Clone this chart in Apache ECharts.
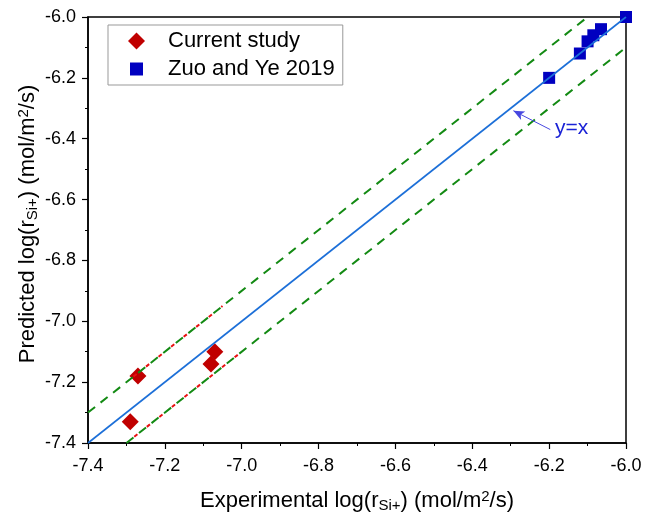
<!DOCTYPE html>
<html><head><meta charset="utf-8">
<script src="https://cdn.jsdelivr.net/npm/echarts@6/dist/echarts.min.js"></script>
<style>html,body{margin:0;padding:0;background:#fff}#c{width:656px;height:518px}</style>
</head><body><div id="c"></div>
<script>
var currentStudy = [[-7.29,-7.33],[-7.27,-7.18],[-7.07,-7.10],[-7.08,-7.14]];
var zuoYe = [[-6.20,-6.20],[-6.12,-6.12],[-6.10,-6.08],[-6.085,-6.06],[-6.065,-6.04],[-6.0,-6.0]];
var identityLine = [[-7.4,-7.4],[-6.0,-6.0]];
var upperBand = [[-7.4,-7.3],[-6.1,-6.0]];
var lowerBand = [[-7.3,-7.4],[-6.0,-6.1]];
var upperRed = [[-7.3,-7.2],[-7.05,-6.95]];
var lowerRed = [[-7.3,-7.4],[-7.0,-7.1]];
var axisMin = -7.4, axisMax = -6.0, axisStep = 0.2;
var arrowTail = [-6.197,-6.37], arrowTip = [-6.293,-6.308];

var chart = echarts.init(document.getElementById('c'));
var font = 'Arial, "Liberation Sans", sans-serif';
function axisCommon(){
  return {
    type:'value', min:axisMin, max:axisMax, interval:axisStep,
    axisLine:{show:true,onZero:false,lineStyle:{color:'#000',width:1.5}},
    axisTick:{show:true,inside:false,length:6,lineStyle:{color:'#000',width:1.2}},
    minorTick:{show:true,splitNumber:2,length:3,lineStyle:{color:'#000',width:1}},
    splitLine:{show:false},
    axisLabel:{color:'#000',fontSize:18,fontFamily:font,margin:14,formatter:function(v){return v.toFixed(1);}},
    nameLocation:'middle',
    nameMoveOverlap:false,
    nameTextStyle:{color:'#000',fontSize:22,fontFamily:font,
      rich:{n:{fontSize:22,fontFamily:font,color:'#000'},
            s:{fontSize:15,fontFamily:font,color:'#000',padding:[10,0,0,0]},
            p:{fontSize:15,fontFamily:font,color:'#000',padding:[0,0,8,0]}}}
  };
}
var xA = axisCommon();
xA.name = '{n|Experimental log(r}{s|Si+}{n|) (mol/m}{p|2}{n|/s)}';
xA.nameGap = 45;
var yA = axisCommon();
yA.name = '{n|Predicted log(r}{s|Si+}{n|) (mol/m}{p|2}{n|/s)}';
yA.nameGap = 48;
yA.nameTextStyle.padding = [0,0,0,12];
yA.axisLabel.margin = 12;

chart.setOption({
  animation:false,
  grid:{left:88,right:30,top:17,bottom:75,containLabel:false,outerBoundsMode:'none',show:true,borderColor:'#000',borderWidth:1.5,backgroundColor:'transparent'},
  xAxis:xA, yAxis:yA,
  legend:{
    orient:'vertical', left:108, top:25, padding:[5,8,5,20], itemGap:6,
    borderColor:'#999', borderWidth:1, backgroundColor:'#fff',
    itemWidth:17, itemHeight:17,
    textStyle:{fontSize:22,fontFamily:font,color:'#000',padding:[0,0,0,18]},
    data:[{name:'Current study',icon:'diamond',itemStyle:{color:'#c00000'}},
          {name:'Zuo and Ye 2019',icon:'path://M0,0M2,2L15,2L15,15L2,15ZM17,17',itemStyle:{color:'#0000c0'}}]
  },
  series:[
    {type:'line',data:upperBand,symbol:'none',silent:true,lineStyle:{color:'#138a13',width:2,type:[9,7]}},
    {type:'line',data:lowerBand,symbol:'none',silent:true,lineStyle:{color:'#138a13',width:2,type:[9,7]}},
    {type:'line',data:upperRed,symbol:'none',silent:true,lineStyle:{color:'#e81010',width:2,type:[4,12],dashOffset:7}},
    {type:'line',data:lowerRed,symbol:'none',silent:true,lineStyle:{color:'#e81010',width:2,type:[4,12],dashOffset:6}},
    {type:'line',data:identityLine,symbol:'none',silent:true,lineStyle:{color:'#1c6fd8',width:1.6},
      markLine:{silent:true,symbol:['none','arrow'],symbolSize:[7,11],
        lineStyle:{color:'#4848e0',width:1,type:'solid'},label:{show:false},
        data:[[{coord:arrowTail},{coord:arrowTip}]]}},
    {name:'Current study',type:'scatter',data:currentStudy,symbol:'diamond',symbolSize:[17,17],itemStyle:{color:'#c00000',opacity:1}},
    {name:'Zuo and Ye 2019',type:'scatter',data:zuoYe,symbol:'rect',symbolSize:12,itemStyle:{color:'#0000c0',opacity:1},clip:true}
  ],
  graphic:[{type:'text',left:555,top:118,style:{text:'y=x',fill:'#1a22d6',font:'21px Arial, "Liberation Sans", sans-serif'}}]
});
</script></body></html>
